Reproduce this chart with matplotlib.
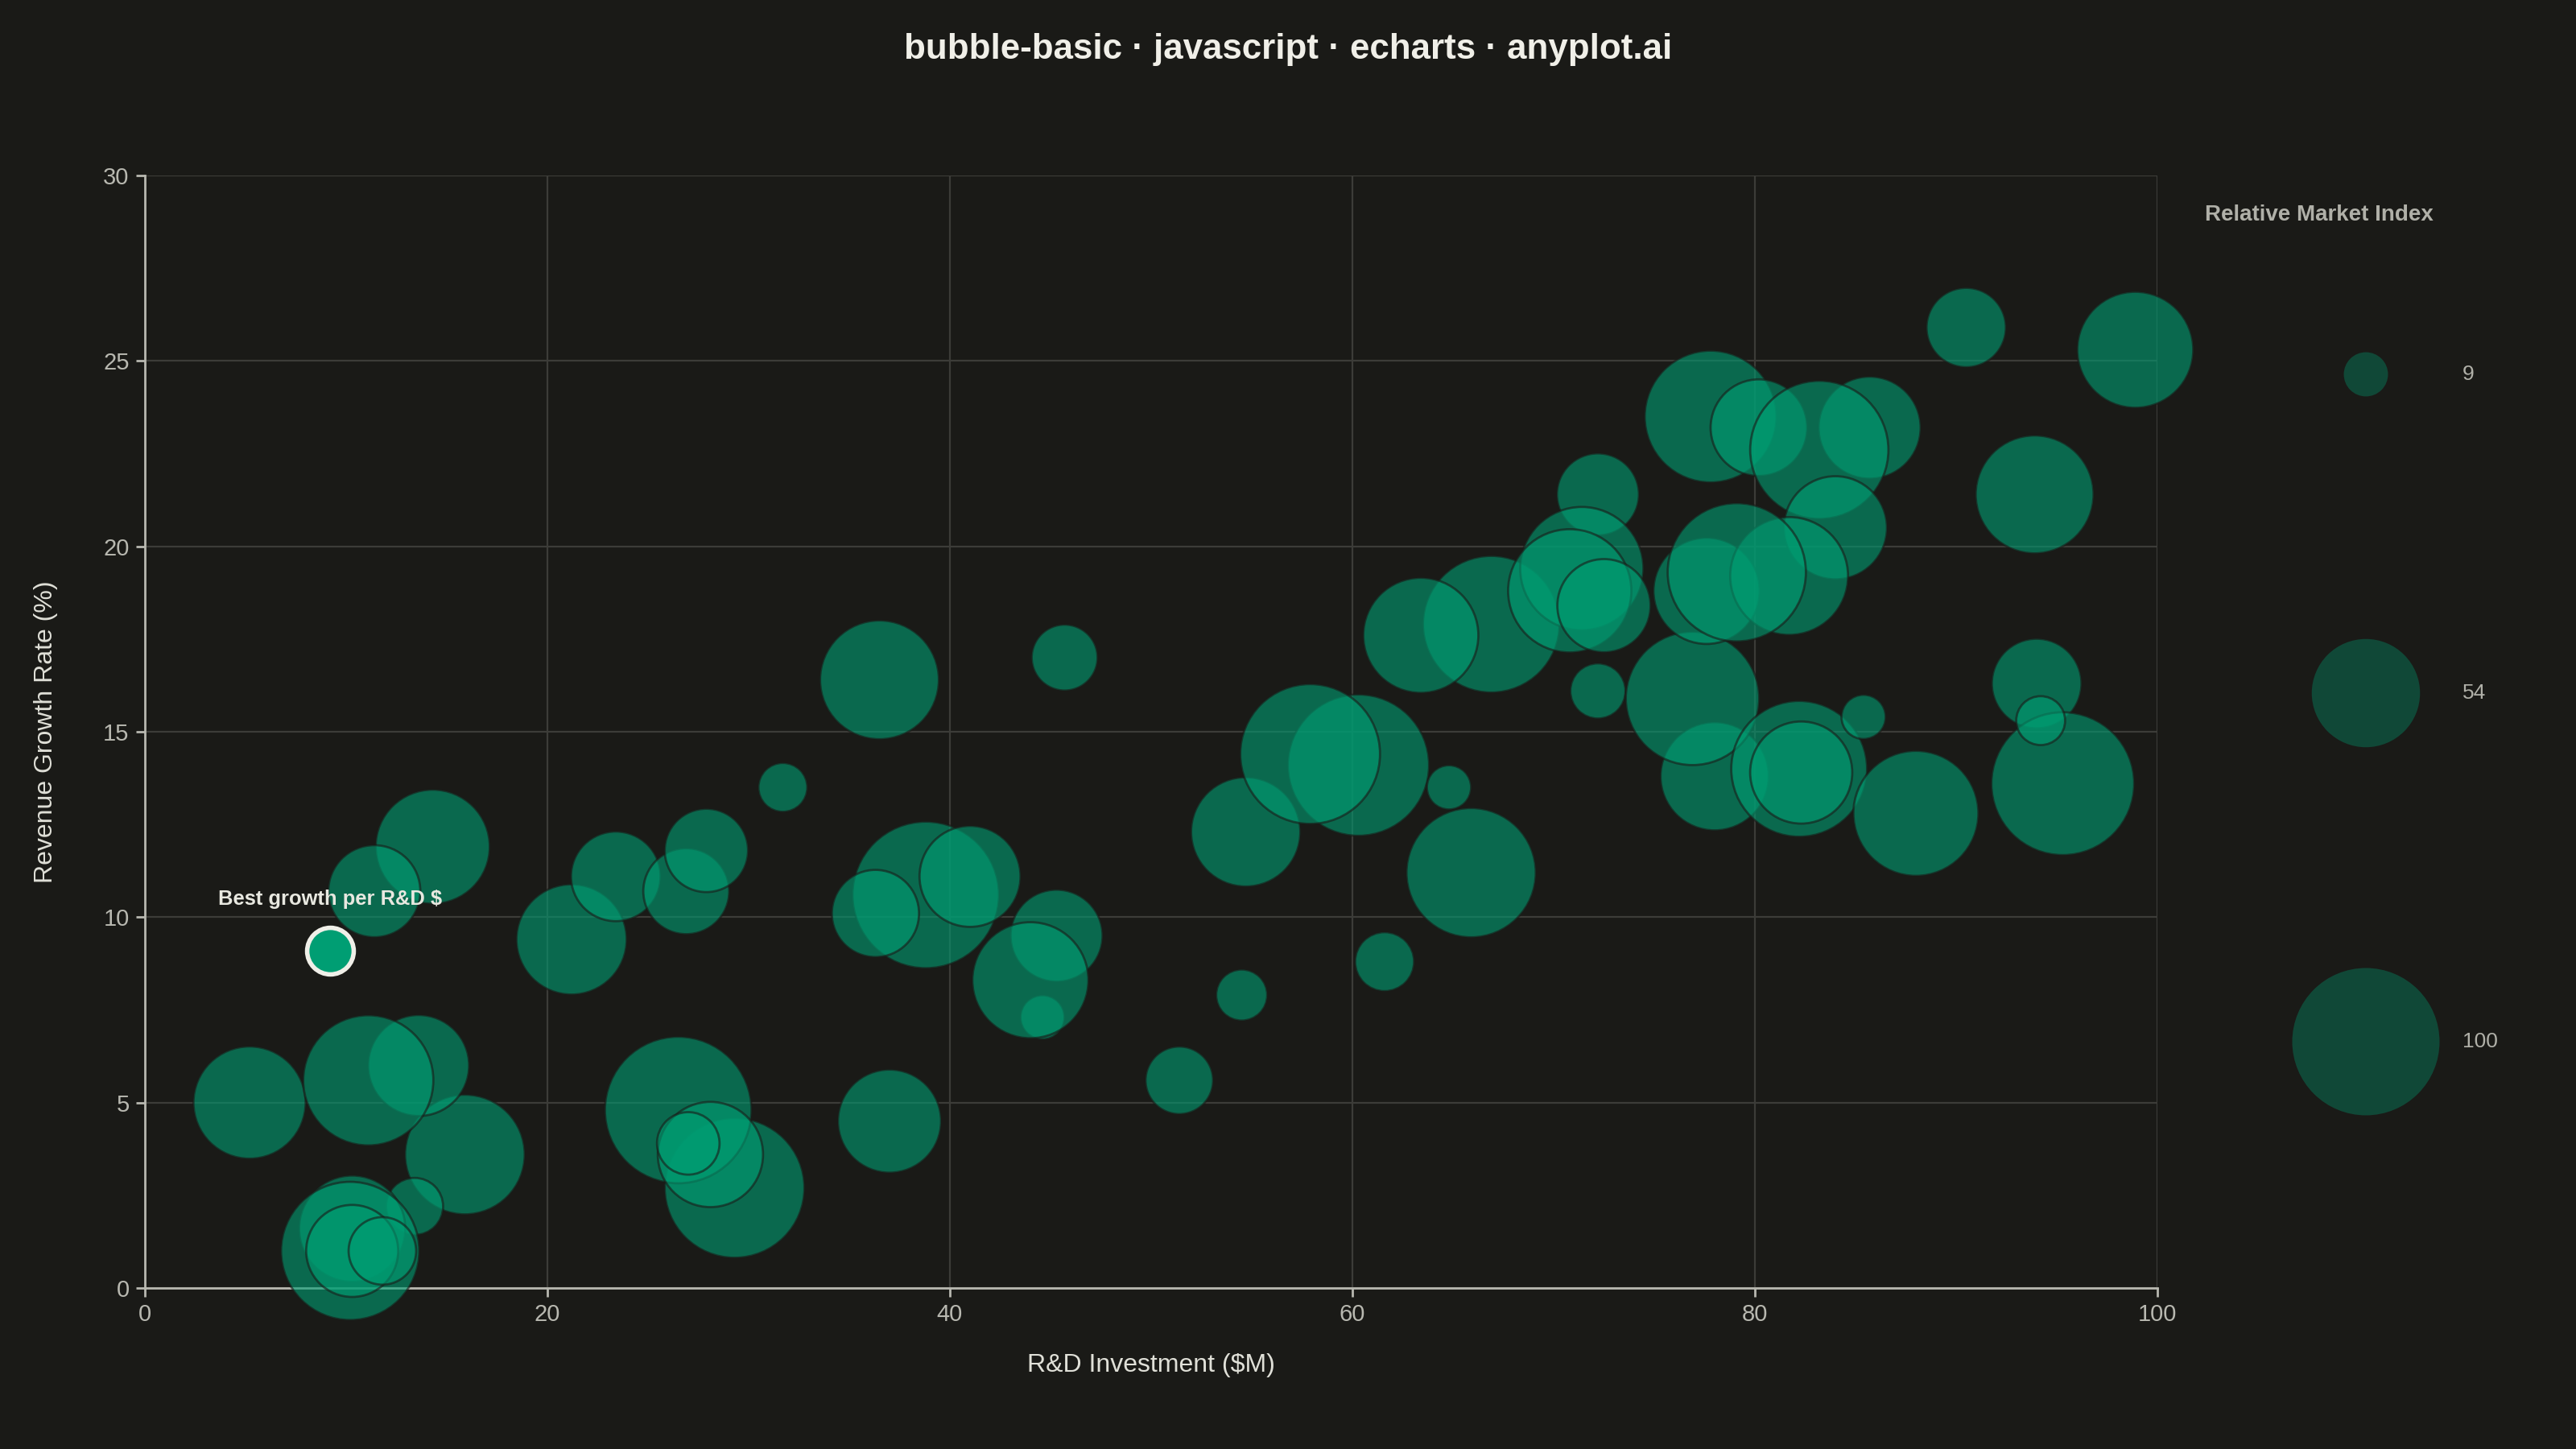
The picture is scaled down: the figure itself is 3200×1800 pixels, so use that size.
import matplotlib.pyplot as plt
import numpy as np

plt.rcParams['font.family'] = ['Liberation Sans', 'DejaVu Sans']

# R&D investment ($M), revenue growth (%), relative market index
rd = [5.2, 15.9, 13.6, 11.1, 13.4, 10.3, 10.2, 10.3, 11.8, 14.3,
      11.4, 21.2, 23.4, 26.9, 27.9, 31.7, 36.5, 45.7, 38.8, 36.3,
      41.0, 45.3, 44.6, 44.0, 29.3, 26.5, 28.1, 27.0, 37.0, 51.4,
      54.5, 54.7, 60.3, 57.9, 61.6, 64.8, 65.9, 66.9, 63.4, 72.2,
      90.5, 98.9, 93.9, 77.8, 85.7, 80.2, 83.2, 84.0, 72.2, 71.4,
      70.8, 72.5, 78.0, 76.9, 77.6, 81.7, 79.1, 82.2, 82.3, 85.4,
      88.0, 94.0, 95.3, 94.2]
growth = [5.0, 3.6, 6.0, 5.6, 2.2, 1.6, 1.0, 1.0, 1.0, 11.9,
          10.7, 9.4, 11.1, 10.7, 11.8, 13.5, 16.4, 17.0, 10.6, 10.1,
          11.1, 9.5, 7.3, 8.3, 2.7, 4.8, 3.6, 3.9, 4.5, 5.6,
          7.9, 12.3, 14.1, 14.4, 8.8, 13.5, 11.2, 17.9, 17.6, 16.1,
          25.9, 25.3, 21.4, 23.5, 23.2, 23.2, 22.6, 20.5, 21.4, 19.4,
          18.8, 18.4, 13.8, 15.9, 18.8, 19.2, 19.3, 14.0, 13.9, 15.4,
          12.8, 16.3, 13.6, 15.3]
market = [58, 66, 47, 78, 15, 52, 88, 39, 21, 60,
          39, 56, 37, 34, 32, 11, 65, 20, 99, 35,
          47, 39, 9, 62, 90, 99, 51, 18, 49, 21,
          12, 55, 92, 90, 16, 9, 77, 86, 61, 14,
          29, 62, 64, 80, 48, 43, 88, 49, 31, 70,
          70, 40, 54, 82, 52, 64, 88, 85, 48, 9,
          72, 37, 94, 11]

best_rd, best_growth, best_market = 9.2, 9.1, 10

legend_vals = [9, 54, 100]

BG = '#1A1A17'
GREEN = '#009E73'
K = 43.4  # points^2 per index unit

fig = plt.figure(figsize=(16, 9), dpi=200, facecolor=BG)
ax = fig.add_axes([180/3200, 200/1800, 2500/3200, 1382/1800])
ax.set_facecolor(BG)

ax.scatter(rd, growth, s=np.array(market) * K, c=GREEN, alpha=0.6,
           edgecolors=BG, linewidths=1.0, zorder=3, clip_on=False)
ax.scatter([best_rd], [best_growth], s=best_market * K, c=GREEN,
           edgecolors='#F0EFE8', linewidths=2.0, zorder=5)
ax.annotate('Best growth per R&D $', (best_rd, best_growth), xytext=(0, 23),
            textcoords='offset points', ha='center', va='center',
            fontsize=9.2, fontweight='bold', color='#E8E8E0', zorder=6)

ax.set_xlim(0, 100)
ax.set_ylim(0, 30)
ax.set_xticks(range(0, 101, 20))
ax.set_yticks(range(0, 31, 5))
ax.grid(True, color='#3C3C38', linewidth=0.8)
ax.set_axisbelow(True)
for side in ['top', 'right']:
    ax.spines[side].set_visible(False)
for side in ['left', 'bottom']:
    ax.spines[side].set_color('#B8B8B0')
    ax.spines[side].set_linewidth(1.0)
ax.tick_params(colors='#B8B8B0', labelsize=10.5, length=4, width=1.0, pad=3)

ax.set_xlabel('R&D Investment ($M)', fontsize=11.5, color='#E0E0D8', labelpad=12)
ax.set_ylabel('Revenue Growth Rate (%)', fontsize=11.5, color='#E0E0D8', labelpad=20)

fig.text(0.5, 1 - 62/1800, 'bubble-basic · javascript · echarts · anyplot.ai',
         ha='center', va='center', fontsize=15.8, fontweight='bold', color='#F0EFE8')

# size legend
lax = fig.add_axes([0, 0, 1, 1])
lax.set_xlim(0, 3200)
lax.set_ylim(1800, 0)
lax.axis('off')
lax.text(2739, 267, 'Relative Market Index', ha='left', va='center',
         fontsize=10, fontweight='bold', color='#B0B0A8')
leg_y = [465, 861, 1294]
for v, yy in zip(legend_vals, leg_y):
    lax.scatter([2939], [yy], s=v * K, c=GREEN, alpha=0.35, edgecolors='none')
    lax.text(3059, yy, str(v), ha='left', va='center', fontsize=9.5, color='#B0B0A8')

fig.savefig('out.png', dpi=200, facecolor=BG)
